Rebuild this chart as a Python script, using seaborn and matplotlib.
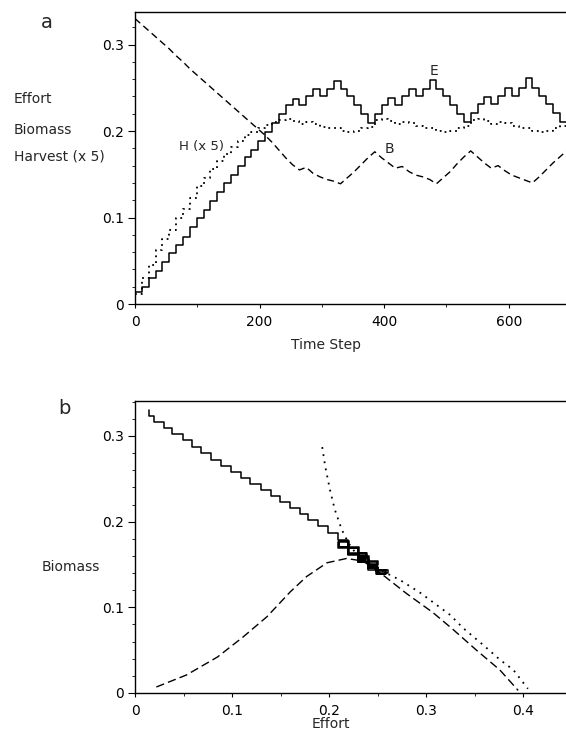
import matplotlib
matplotlib.use("Agg")
import matplotlib.pyplot as plt
import pandas as pd
import seaborn as sns
from matplotlib.ticker import MultipleLocator, FuncFormatter

# ---------------- data ----------------
time_step = [0, 11, 22, 33, 44, 55, 66, 77, 88, 99, 110, 121, 132, 143, 154, 165,
             176, 187, 198, 209, 220, 231, 242, 253, 264, 275, 286, 297, 308, 319,
             330, 341, 352, 363, 374, 385, 396, 407, 418, 429, 440, 451, 462, 473,
             484, 495, 506, 517, 528, 539, 550, 561, 572, 583, 594, 605, 616, 627,
             638, 649, 660, 671, 682, 693]

effort = [0.014, 0.020, 0.030, 0.0385, 0.049, 0.059, 0.068, 0.078, 0.089, 0.099,
          0.109, 0.119, 0.130, 0.140, 0.149, 0.160, 0.170, 0.178, 0.189, 0.199,
          0.209,
          0.220, 0.230, 0.237, 0.230, 0.240, 0.248, 0.240, 0.248, 0.258, 0.248,
          0.240, 0.230, 0.220, 0.209,
          0.220, 0.230, 0.238, 0.230, 0.240, 0.249, 0.240, 0.249, 0.259, 0.249,
          0.240, 0.230, 0.220, 0.210,
          0.221, 0.231, 0.239, 0.231, 0.241, 0.250, 0.241, 0.250, 0.261, 0.250,
          0.241, 0.231, 0.221, 0.210,
          0.210]

biomass = [0.330, 0.323, 0.316, 0.309, 0.302, 0.295, 0.287, 0.280, 0.272, 0.265,
           0.258, 0.251, 0.244, 0.237, 0.230, 0.223, 0.216, 0.209, 0.202, 0.195,
           0.187, 0.178, 0.169, 0.161, 0.155, 0.158, 0.151, 0.147, 0.144, 0.142,
           0.139, 0.146, 0.153, 0.161, 0.169, 0.176, 0.169, 0.163, 0.157, 0.159,
           0.153, 0.149, 0.147, 0.144, 0.139, 0.146, 0.153, 0.162, 0.170, 0.177,
           0.170, 0.163, 0.157, 0.160, 0.154, 0.149, 0.146, 0.143, 0.140, 0.147,
           0.155, 0.163, 0.170, 0.177]

harvest5 = [0.012, 0.030, 0.045, 0.062, 0.075, 0.086, 0.099, 0.110, 0.123, 0.136,
            0.146, 0.156, 0.165, 0.174, 0.181, 0.188, 0.195, 0.199, 0.203, 0.207,
            0.210, 0.213, 0.214, 0.212, 0.208, 0.211, 0.208, 0.205, 0.204, 0.203,
            0.200, 0.199, 0.200, 0.203, 0.205, 0.213, 0.214, 0.212, 0.208, 0.211,
            0.209, 0.206, 0.204, 0.203, 0.200, 0.199, 0.200, 0.203, 0.206, 0.213,
            0.214, 0.212, 0.208, 0.211, 0.209, 0.206, 0.204, 0.203, 0.200, 0.199,
            0.200, 0.203, 0.206, 0.212]

# panel b curves
dotted_effort = [0.193, 0.196, 0.201, 0.206, 0.213, 0.220, 0.229, 0.245, 0.273,
                 0.294, 0.325, 0.338, 0.359, 0.376, 0.390, 0.405]
dotted_biomass = [0.287, 0.265, 0.237, 0.214, 0.191, 0.175, 0.161, 0.148, 0.132,
                  0.117, 0.091, 0.076, 0.056, 0.039, 0.027, 0.005]

dashed_effort = [0.022, 0.053, 0.085, 0.111, 0.136, 0.160, 0.177, 0.198, 0.218,
                 0.235, 0.253, 0.280, 0.307, 0.328, 0.352, 0.376, 0.395]
dashed_biomass = [0.007, 0.021, 0.042, 0.065, 0.089, 0.118, 0.136, 0.152, 0.157,
                  0.154, 0.140, 0.116, 0.094, 0.074, 0.050, 0.027, 0.003]

y_ticks = [0, 0.1, 0.2, 0.3]
xa_ticks = [0, 200, 400, 600]
xb_ticks = [0, 0.1, 0.2, 0.3, 0.4]

# ---------------- figure ----------------
sns.set_style("ticks")
plt.rcParams['font.family'] = ['DejaVu Sans']

W, H = 566, 743
fig = plt.figure(figsize=(W / 100, H / 100), dpi=100)
fig.patch.set_facecolor('white')
ax_a = fig.add_axes([135 / W, 1 - 304 / H, 431 / W, 292 / H])
ax_b = fig.add_axes([135 / W, 1 - 693 / H, 431 / W, 292 / H])

ts = pd.DataFrame({'t': time_step, 'E': effort, 'B': biomass, 'H': harvest5})
dot = pd.DataFrame({'E': dotted_effort, 'B': dotted_biomass})
dsh = pd.DataFrame({'E': dashed_effort, 'B': dashed_biomass})

# panel a
sns.lineplot(data=ts, x='t', y='E', ax=ax_a, color='black', lw=1.1,
             drawstyle='steps-post', estimator=None, sort=False)
sns.lineplot(data=ts, x='t', y='B', ax=ax_a, color='black', lw=1.0,
             estimator=None, sort=False)
ax_a.lines[-1].set_linestyle((0, (5, 3)))
sns.lineplot(data=ts, x='t', y='H', ax=ax_a, color='black', lw=1.3,
             drawstyle='steps-post', estimator=None, sort=False)
ax_a.lines[-1].set_linestyle((0, (1, 2.2)))

# panel b
sns.lineplot(data=ts, x='E', y='B', ax=ax_b, color='black', lw=1.1,
             drawstyle='steps-pre', estimator=None, sort=False)
sns.lineplot(data=dot, x='E', y='B', ax=ax_b, color='black', lw=1.3,
             estimator=None, sort=False)
ax_b.lines[-1].set_linestyle((0, (1, 3)))
sns.lineplot(data=dsh, x='E', y='B', ax=ax_b, color='black', lw=1.0,
             estimator=None, sort=False)
ax_b.lines[-1].set_linestyle((0, (6, 3)))

fmt = FuncFormatter(lambda v, p: '0' if abs(v) < 1e-9 else f'{v:.1f}')

for ax in (ax_a, ax_b):
    ax.set_facecolor('white')
    ax.spines['right'].set_visible(False)
    for s in ('top', 'left', 'bottom'):
        ax.spines[s].set_color('black')
        ax.spines[s].set_linewidth(1.0)
    ax.set_yticks(y_ticks)
    ax.yaxis.set_minor_locator(MultipleLocator(0.02))
    ax.yaxis.set_major_formatter(fmt)
    ax.tick_params(which='major', direction='out', length=5, width=0.8,
                   labelsize=10, pad=3, colors='black')
    ax.tick_params(which='minor', direction='out', length=2.5, width=0.7)
    ax.tick_params(axis='x', which='major', length=3, pad=5)
    ax.set_ylabel('')

ax_a.set_xlim(0, 692)
ax_a.set_ylim(0, 0.3376)
ax_a.set_xticks(xa_ticks)
ax_a.xaxis.set_minor_locator(MultipleLocator(100))
ax_a.set_xlabel('Time Step', fontsize=10)
ax_a.xaxis.set_label_coords((326 - 135) / 431, (304 - 338) / 292)

ax_b.set_xlim(0, 0.4443)
ax_b.set_ylim(0, 0.3408)
ax_b.set_xticks(xb_ticks)
ax_b.xaxis.set_minor_locator(MultipleLocator(0.05))
ax_b.xaxis.set_major_formatter(fmt)
ax_b.set_xlabel('Effort', fontsize=10)
ax_b.xaxis.set_label_coords((331 - 135) / 431, (693 - 717) / 292)

# in-plot labels
ax_a.text(480, 0.269, 'E', ha='center', va='center', fontsize=10)
ax_a.text(408, 0.179, 'B', ha='center', va='center', fontsize=10)
ax_a.text(106, 0.182, 'H (x 5)', ha='center', va='center', fontsize=9.5)

# side labels
fig.text(14 / W, 1 - 99 / H, 'Effort', ha='left', va='center', fontsize=10)
fig.text(14 / W, 1 - 130 / H, 'Biomass', ha='left', va='center', fontsize=10)
fig.text(14 / W, 1 - 157 / H, 'Harvest (x 5)', ha='left', va='center', fontsize=10)
fig.text(42 / W, 1 - 567 / H, 'Biomass', ha='left', va='center', fontsize=10)

fig.text(47 / W, 1 - 22 / H, 'a', ha='center', va='center', fontsize=14)
fig.text(64 / W, 1 - 408 / H, 'b', ha='center', va='center', fontsize=14)

fig.savefig('out.png', dpi=100, facecolor='white')
